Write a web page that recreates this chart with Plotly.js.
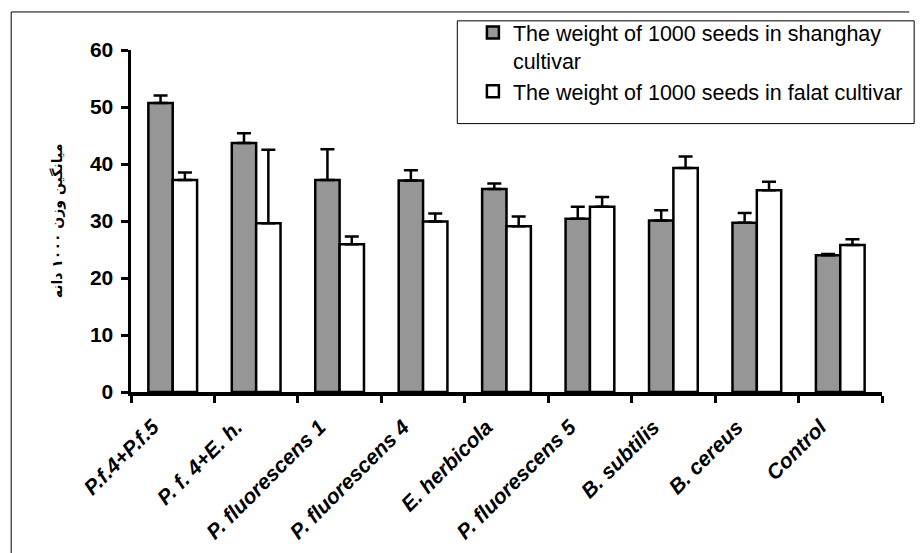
<!DOCTYPE html>
<html>
<head>
<meta charset="utf-8">
<script src="https://cdn.plot.ly/plotly-3.0.1.min.js"></script>
<style>html,body{margin:0;padding:0;background:#fff;}#chart{width:920px;height:553px;}</style>
</head>
<body>
<div id="chart"></div>
<script>
// ---- data ----
var categories = ["P.f.4+P.f.5", "P. f. 4+E. h.", "P. fluorescens 1", "P. fluorescens 4", "E. herbicola", "P. fluorescens 5", "B. subtilis", "B. cereus", "Control"];
var shanghay = [50.7, 43.7, 37.2, 37.1, 35.6, 30.4, 30.1, 29.7, 24.0];
var shanghayErr = [1.3, 1.7, 5.4, 1.8, 1.0, 2.1, 1.8, 1.7, 0.2];
var falat = [37.2, 29.6, 25.9, 29.9, 29.1, 32.5, 39.3, 35.4, 25.8];
var falatErr = [1.3, 12.9, 1.4, 1.4, 1.7, 1.7, 2.0, 1.5, 1.0];
var seriesNames = ["The weight of 1000 seeds in shanghay<br>cultivar", "The weight of 1000 seeds in falat cultivar"];
var yTitle = "میانگین وزن ۱۰۰۰ دانه";
var yTicks = [0, 10, 20, 30, 40, 50, 60];

// ---- layout helpers (pixel -> paper) ----
var L = 131, R = 902, T = 45.5, B = 391.7;
function px(x) { return (x - L) / (R - L); }
function py(y) { return (B - y) / (B - T); }
var FONT = "Arial, 'Liberation Sans', 'DejaVu Sans', sans-serif";
function zeros(a) { return a.map(function () { return 0; }); }

var traces = [
  {
    type: "bar", name: seriesNames[0], x: categories, y: shanghay,
    marker: { color: "#969696", line: { color: "#000", width: 2.5 } },
    error_y: { type: "data", symmetric: false, array: shanghayErr, arrayminus: zeros(shanghayErr), color: "#000", thickness: 2.5, width: 7 }
  },
  {
    type: "bar", name: seriesNames[1], x: categories, y: falat,
    marker: { color: "#ffffff", line: { color: "#000", width: 2.5 } },
    error_y: { type: "data", symmetric: false, array: falatErr, arrayminus: zeros(falatErr), color: "#000", thickness: 2.5, width: 7 }
  }
];

var layout = {
  width: 920, height: 553,
  margin: { l: L, r: 920 - R, t: T, b: 553 - B, pad: 0 },
  paper_bgcolor: "#fff", plot_bgcolor: "#fff",
  font: { family: FONT, color: "#000" },
  barmode: "group", bargap: 0.416, bargroupgap: 0,
  showlegend: true,
  legend: {
    x: px(482), y: py(7), xanchor: "left", yanchor: "top",
    bgcolor: "rgba(0,0,0,0)", borderwidth: 0,
    font: { family: FONT, size: 21.5, color: "#000" },
    valign: "top", tracegroupgap: 0
  },
  xaxis: {
    type: "category", showgrid: false, zeroline: false,
    showline: true, linecolor: "#000", linewidth: 3.5,
    ticks: "outside", tickson: "boundaries", ticklen: 7, tickwidth: 3, tickcolor: "#000",
    tickangle: -45, ticklabelstandoff: 11, ticklabelshift: -20,
    tickfont: { family: FONT, size: 21, weight: "bold", style: "italic", color: "#000" }
  },
  yaxis: {
    range: [0, 60], tickvals: yTicks, showgrid: false, zeroline: false,
    showline: true, linecolor: "#000", linewidth: 3.5,
    ticks: "outside", ticklen: 7, tickwidth: 3, tickcolor: "#000",
    tickfont: { family: FONT, size: 21, weight: "bold", color: "#000" },
    ticklabelstandoff: 3,
    title: { text: yTitle, standoff: 25, font: { family: "'DejaVu Sans', Arial, sans-serif", size: 14, weight: "bold", color: "#000" } }
  },
  shapes: [
    { type: "line", xref: "paper", yref: "paper", x0: px(8), y0: py(7), x1: px(930), y1: py(7), line: { color: "#000", width: 1 } },
    { type: "line", xref: "paper", yref: "paper", x0: px(8), y0: py(7), x1: px(8), y1: py(560), line: { color: "#000", width: 1 } },
    { type: "rect", xref: "paper", yref: "paper", x0: px(466), y0: py(16), x1: px(935), y1: py(120), line: { color: "#000", width: 1 }, fillcolor: "rgba(0,0,0,0)" }
  ]
};

Plotly.newPlot("chart", traces, layout, { staticPlot: true, displayModeBar: false });
</script>
</body>
</html>
